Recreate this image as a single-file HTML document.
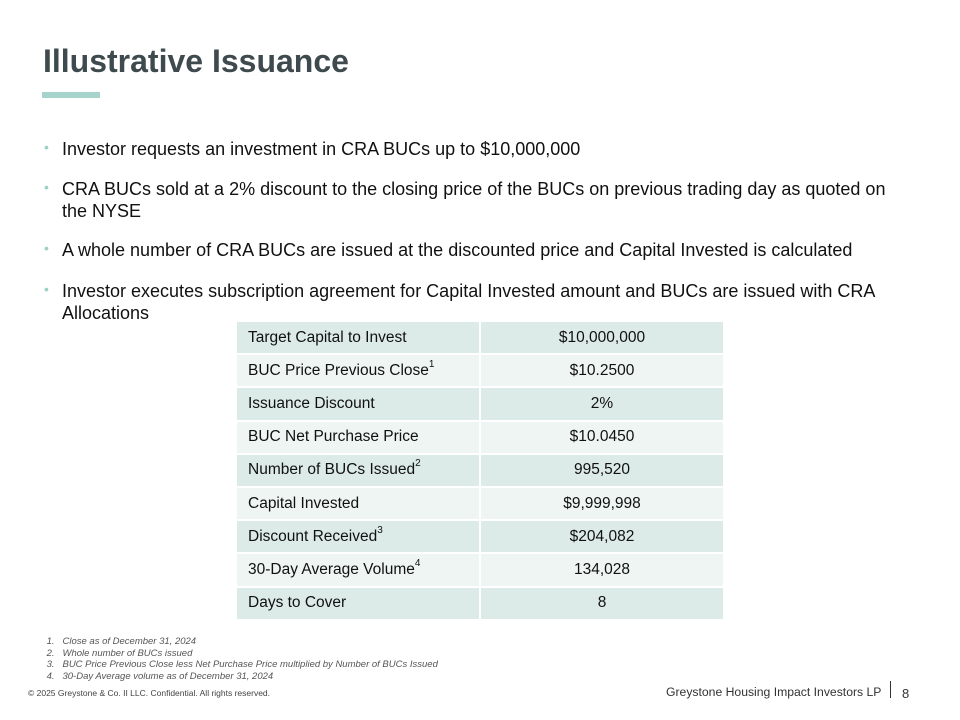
<!DOCTYPE html>
<html><head><meta charset="utf-8"><style>
body{margin:0;width:960px;height:720px;background:#fff;position:relative;font-family:"Liberation Sans",Arial,sans-serif;overflow:hidden}
.a{position:absolute;white-space:nowrap}
.t{left:43px;top:43px;font-size:32px;font-weight:bold;color:#3e4a4e}
.bar{position:absolute;left:42px;top:92px;width:58px;height:6px;background:#a6d4cc}
.b{left:62px;font-size:18px;color:#111;line-height:22px}
.dot{position:absolute;left:44px;font-size:14px;color:#9ccfc6}
table{position:absolute;left:235px;top:320px;border-collapse:collapse;font-size:15.5px;color:#111}
td{height:31px;padding:0;border:2px solid #fff;box-sizing:border-box}
tr{height:33.2px}
td.l{width:244px;padding-left:11px}
td.r{width:244px;text-align:center}
tr:nth-child(odd) td{background:#dcebe7}
tr:nth-child(even) td{background:#eef5f3}
sup{font-size:10px;vertical-align:8px;line-height:0}
.fn{left:44px;font-size:9.5px;font-style:italic;color:#555;line-height:11.5px}
</style></head><body>
<div class="a t">Illustrative Issuance</div>
<div class="bar"></div>
<div class="dot" style="top:139px">•</div><div class="a b" style="top:138px">Investor requests an investment in CRA BUCs up to $10,000,000</div>
<div class="dot" style="top:179px">•</div><div class="a b" style="top:178px">CRA BUCs sold at a 2% discount to the closing price of the BUCs on previous trading day as quoted on<br>the NYSE</div>
<div class="dot" style="top:240px">•</div><div class="a b" style="top:239px">A whole number of CRA BUCs are issued at the discounted price and Capital Invested is calculated</div>
<div class="dot" style="top:281px">•</div><div class="a b" style="top:280px">Investor executes subscription agreement for Capital Invested amount and BUCs are issued with CRA<br>Allocations</div>
<table>
<tr><td class="l">Target Capital to Invest</td><td class="r">$10,000,000</td></tr>
<tr><td class="l">BUC Price Previous Close<sup>1</sup></td><td class="r">$10.2500</td></tr>
<tr><td class="l">Issuance Discount</td><td class="r">2%</td></tr>
<tr><td class="l">BUC Net Purchase Price</td><td class="r">$10.0450</td></tr>
<tr><td class="l">Number of BUCs Issued<sup>2</sup></td><td class="r">995,520</td></tr>
<tr><td class="l">Capital Invested</td><td class="r">$9,999,998</td></tr>
<tr><td class="l">Discount Received<sup>3</sup></td><td class="r">$204,082</td></tr>
<tr><td class="l">30-Day Average Volume<sup>4</sup></td><td class="r">134,028</td></tr>
<tr><td class="l">Days to Cover</td><td class="r">8</td></tr>
</table>
<div class="a fn" style="top:636px">&nbsp;1.&nbsp;&nbsp; Close as of December 31, 2024<br>&nbsp;2.&nbsp;&nbsp; Whole number of BUCs issued<br>&nbsp;3.&nbsp;&nbsp; BUC Price Previous Close less Net Purchase Price multiplied by Number of BUCs Issued<br>&nbsp;4.&nbsp;&nbsp; 30-Day Average volume as of December 31, 2024</div>
<div class="a" style="left:28px;top:688px;font-size:8.5px;color:#444">© 2025 Greystone &amp; Co. II LLC. Confidential. All rights reserved.</div>
<div class="a" style="left:666px;top:685px;font-size:12.2px;color:#333">Greystone Housing Impact Investors LP</div>
<div style="position:absolute;left:890px;top:681px;width:1px;height:17px;background:#333"></div>
<div class="a" style="left:902px;top:686px;font-size:13px;color:#333">8</div>
</body></html>
